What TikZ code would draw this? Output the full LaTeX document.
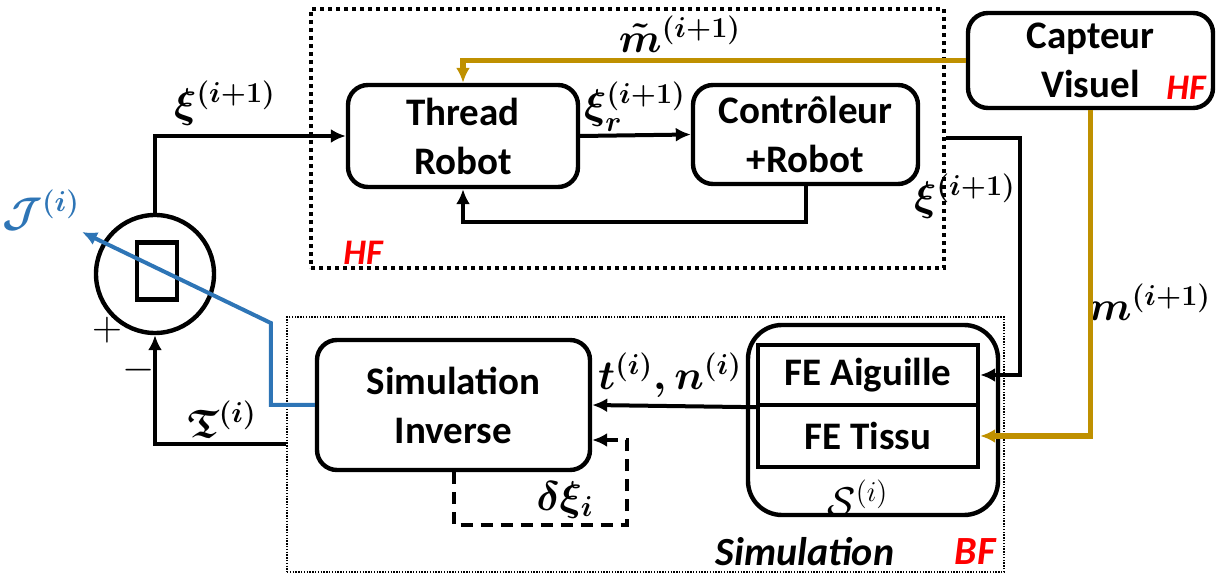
\documentclass[tikz,border=0pt]{standalone}
\usepackage{amsmath}
\usepackage{amssymb}
\usepackage{bm}
\usepackage{fontspec}
\setmainfont{Carlito}
\usetikzlibrary{positioning, arrows.meta, calc}
\definecolor{gold}{RGB}{191,144,0}
\definecolor{jblue}{RGB}{46,117,182}
\tikzset{>={Latex[length=7.5pt,width=7pt]}}

\begin{document}
\begin{tikzpicture}[x=0.5pt,y=-0.5pt,
		blk/.style={draw,line width=2.2pt,rounded corners=10pt,align=center,inner sep=0pt,
			font=\fontsize{19.5}{24.5}\selectfont\bfseries},
		febox/.style={draw,line width=2.2pt,minimum width=110pt,inner sep=0pt,
			font=\fontsize{19.5}{24.5}\selectfont\bfseries},
		lab/.style={inner sep=0pt,font=\fontsize{20}{24}\selectfont\boldmath},
		tag/.style={inner sep=0pt,text=red,font=\fontsize{18}{20}\selectfont\bfseries\itshape},
		wire/.style={line width=2pt},
		goldwire/.style={line width=2.6pt,gold}]
		\useasboundingbox (0,0) rectangle (1219,576);
		% Frames
		\node[draw,line width=2pt,dash pattern=on 2pt off 2pt,minimum width=316.5pt,minimum height=129.5pt] (hfbox) at (627.5,138.5) {};
		\node[draw,line width=0.7pt,dash pattern=on 0.7pt off 0.7pt,minimum width=358.5pt,minimum height=127.5pt] (simbox) at (645.5,444.5) {};
		% Blocks
		\node[blk,minimum width=115pt,minimum height=51pt] (thread) at (463,136) {Thread\\Robot};
		\node[blk,minimum width=112.5pt,minimum height=49.5pt] (ctrl) at (805.5,134.5) {Contrôleur\\+Robot};
		\node[blk,minimum width=122.5pt,minimum height=47.5pt] (capteur) at (1090.5,60.5) {Capteur\\Visuel};
		\node[blk,minimum width=136.5pt,minimum height=65pt] (siminv) at (453.5,405) {Simulation\\Inverse};
		\node[draw,line width=2.2pt,rounded corners=17pt,minimum width=125pt,minimum height=95pt] (sbox) at (873,420) {};
		\node[febox,minimum height=30pt] (aig) at (868,375) {FE Aiguille};
		\node[febox,minimum height=31pt] (tis) at (868,436) {FE Tissu};
		% Comparator
		\node[circle,draw,line width=2.2pt,minimum size=59pt,inner sep=0pt] (sum) at (155,274) {};
		\node[draw,line width=2.2pt,minimum width=20pt,minimum height=28.5pt,inner sep=0pt] (sumbar) at (157,271) {};
		% Labels
		\node[lab] (xiin) at (225,103) {$\xi^{(i+1)}$};
		\node[lab] (xir) at (635,107) {$\xi_r^{(i+1)}$};
		\node[lab] (mtilde) at (680,34) {$\tilde{m}^{(i+1)}$};
		\node[lab] (xiout) at (965,196) {$\xi^{(i+1)}$};
		\node[lab] (mmeas) at (1150,302) {$m^{(i+1)}$};
		\node[lab] (tn) at (670,375) {$t^{(i)},n^{(i)}$};
		\node[lab] (dxi) at (565,500) {$\delta\xi_i$};
		\node[lab] (frakt) at (222,419) {$\mathfrak{T}^{(i)}$};
		\node[lab,text=jblue] (jcost) at (41,210) {$\mathcal{J}^{(i)}$};
		\node[inner sep=0pt,font=\fontsize{20}{24}\selectfont] (sname) at (858,498) {$\mathcal{S}^{(i)}$};
		\node[inner sep=0pt,font=\fontsize{22}{24}\selectfont] (plus) at (107,330) {$+$};
		\node[inner sep=0pt,font=\fontsize{22}{24}\selectfont] (minus) at (139,370) {$-$};
		\node[tag] (hfin) at (363,253) {HF};
		\node[tag] (hfcam) at (1186,88) {HF};
		\node[inner sep=0pt,font=\fontsize{20}{24}\selectfont\bfseries\itshape] (simname) at (805,552) {Simulation};
		\node[tag,font=\fontsize{20}{24}\selectfont\bfseries\itshape] (bf) at (975,552) {BF};
		\coordinate (jtip) at (82,232);
		% Connectors
		\draw[wire,->] (sum.north) |- (thread.west);
		\draw[wire,->] (thread.east) -- (ctrl.west);
		\draw[wire,->] (ctrl.south) -- ++(0,36) -| (thread.south);
		\draw[wire,->] (hfbox.east) -- ++(74,0) |- (aig.east);
		\draw[wire,->] (aig.south west) -- (siminv.east);
		\draw[wire,->,dash pattern=on 6pt off 4pt] (siminv.south) -- ++(0,53) -- ++(173,0) |- ($(siminv.east)+(0,35)$);
		\draw[wire,->] (simbox.west) -| (sum.south);
		\draw[goldwire,->] (capteur.west) -| (thread.north);
		\draw[goldwire,->] (capteur.south) |- (tis.east);
		\draw[wire,jblue,->] (siminv.west) -- ++(-44,0) -- ++(0,-82) -- (jtip);
	\end{tikzpicture}
\end{document}
